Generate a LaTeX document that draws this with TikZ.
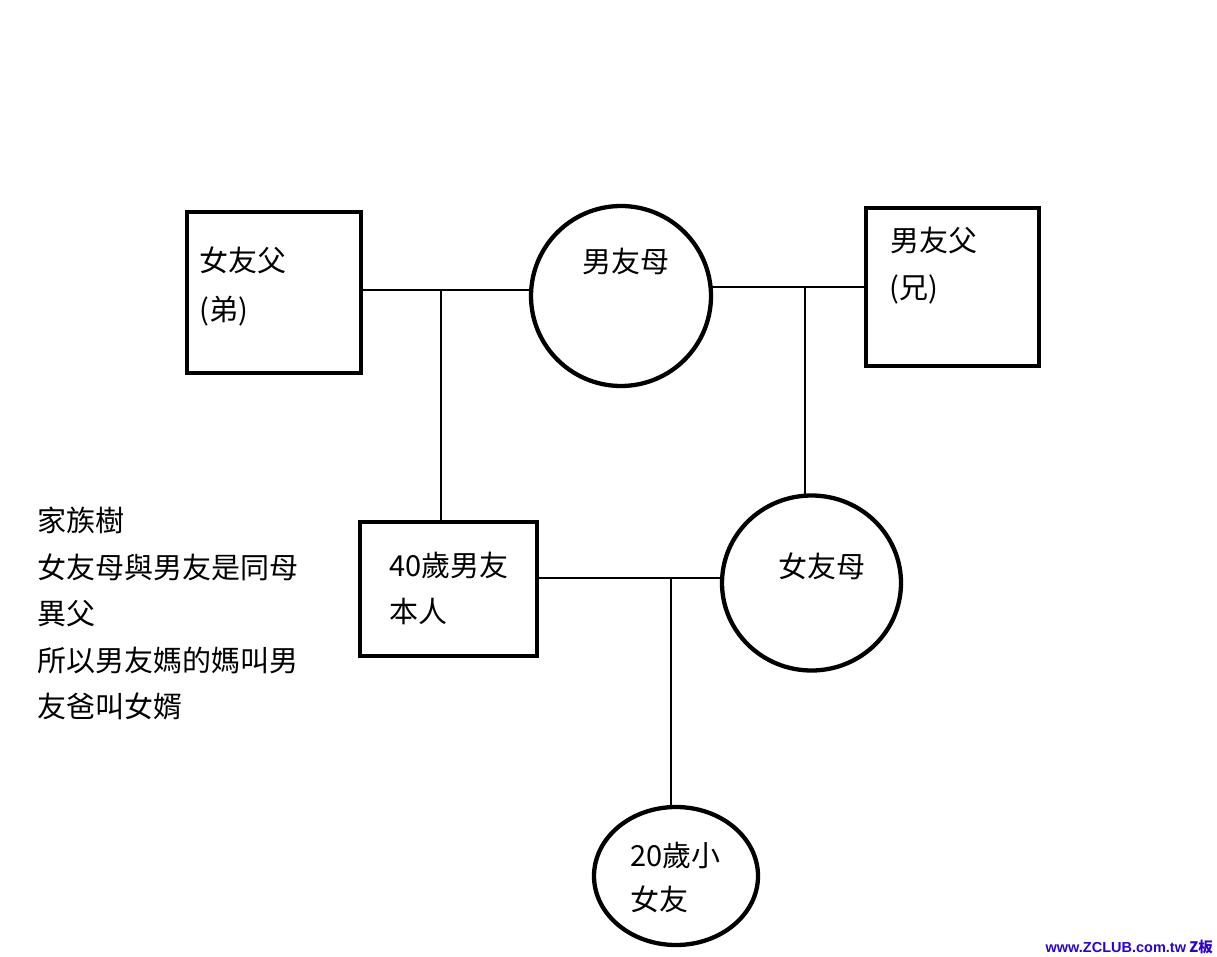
\documentclass[tikz,border=0pt]{standalone}
\usepackage{fontspec}
\setmainfont{Noto Sans CJK TC}
\newfontfamily\wmlatin{Liberation Sans}
\newfontfamily\wmcjk{Noto Sans CJK TC}
\usetikzlibrary{shapes.geometric}
\definecolor{wmblue}{RGB}{48,0,210}
\tikzset{
  person/.style={draw=black, line width=4.3pt, rectangle, inner sep=0pt, outer sep=0pt},
  female/.style={draw=black, line width=4.3pt, ellipse, inner sep=0pt, outer sep=0pt},
  link/.style={draw=black, line width=2.8pt},
  lbl/.style={anchor=base west, inner sep=0pt, font=\fontsize{29}{46.5}\selectfont},
}
\begin{document}
\begin{tikzpicture}[x=1pt,y=-1pt]
\useasboundingbox (0,0) rectangle (1217,957);
% shapes
\node[person, minimum width=174pt, minimum height=161pt] (b1) at (274,292.5) {};
\node[female, minimum width=180pt, minimum height=180pt] (m1) at (621,296) {};
\node[person, minimum width=173pt, minimum height=158pt] (b2) at (952.5,287) {};
\node[person, minimum width=177pt, minimum height=134pt] (b3) at (448.5,589) {};
\node[female, minimum width=179pt, minimum height=175pt] (c2) at (811.5,583) {};
\node[female, minimum width=164pt, minimum height=138pt] (c3) at (676,876) {};
% junctions
\coordinate (j1) at (441,290);
\coordinate (j2) at (805,287);
\coordinate (j3) at (671,578);
% connectors
\draw[link] (b1.east |- j1) -- (j1) -- (m1.west |- j1);
\draw[link] (j1) -- (j1 |- b3.north);
\draw[link] (m1.east |- j2) -- (j2) -- (b2.west |- j2);
\draw[link] (j2) -- (j2 |- c2.north);
\draw[link] (b3.east |- j3) -- (j3) -- (c2.west |- j3);
\draw[link] (j3) -- (j3 |- c3.north);
% labels
\node[lbl] (t1a) at (199,272) {女友父};
\node[lbl] (t1b) at (199,320) {(弟)};
\node[lbl] (t2) at (582,273) {男友母};
\node[lbl] (t3a) at (890,252) {男友父};
\node[lbl] (t3b) at (889,299) {(兄)};
\node[lbl] (t4a) at (389,576) {40歲男友};
\node[lbl] (t4b) at (389,622) {本人};
\node[lbl] (t5) at (778,577) {女友母};
\node[lbl] (t6a) at (630,866) {20歲小};
\node[lbl] (t6b) at (630,910) {女友};
\node[lbl, align=left, anchor=north west] (note) at (37,507) {家族樹\\女友母與男友是同母\\異父\\所以男友媽的媽叫男\\友爸叫女婿};
% watermark
\node[anchor=base east, inner sep=0pt, text=wmblue, font=\fontsize{14.5}{16}\selectfont\bfseries] (wm) at (1213,952) {{\wmlatin www.ZCLUB.com.tw} {\wmcjk Z板}};
\end{tikzpicture}
\end{document}
